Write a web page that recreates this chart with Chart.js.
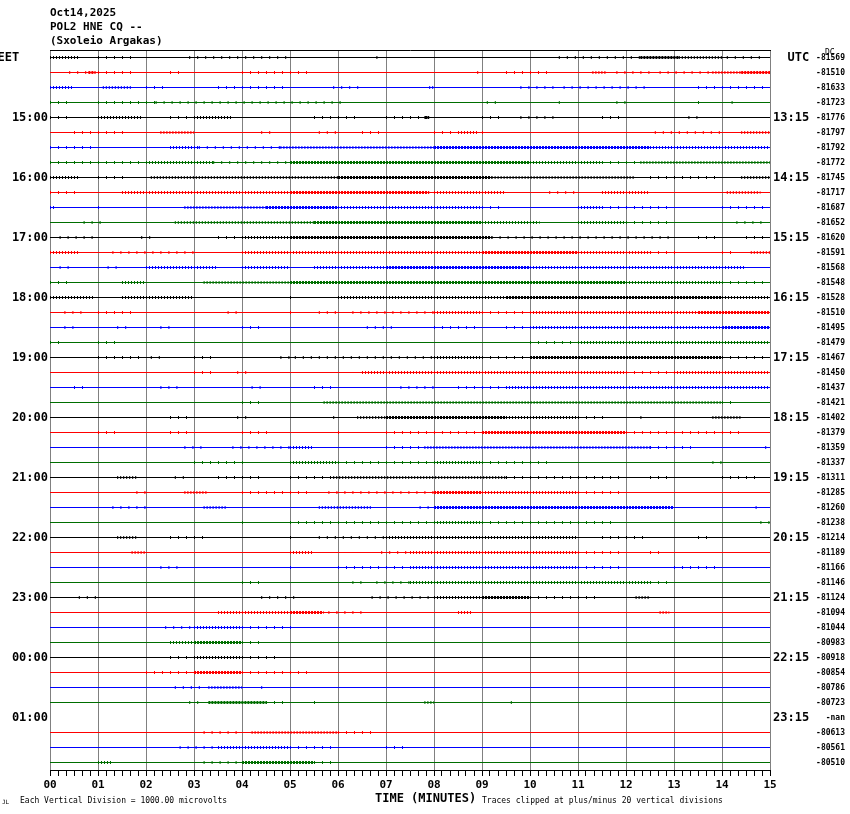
<!DOCTYPE html>
<html>
<head>
<meta charset="utf-8">
<script src="https://cdn.jsdelivr.net/npm/chart.js@4/dist/chart.umd.min.js"></script>
<style>
  html, body { margin: 0; padding: 0; background: #fff; overflow: hidden; }
</style>
</head>
<body>
<canvas id="chart" width="850" height="814"></canvas>
<script>
// header lines + station
const headerLines = ["Oct14,2025", "POL2 HNE CQ --", "(Sxoleio Argakas)"];

// x axis (minutes)
const minuteLabels = ["00", "01", "02", "03", "04", "05", "06", "07", "08", "09", "10", "11", "12", "13", "14", "15"];

// left / right hour labels, one every 4 traces
const eetLabels = ["EET", "15:00", "16:00", "17:00", "18:00", "19:00", "20:00", "21:00", "22:00", "23:00", "00:00", "01:00"];
const utcLabels = ["UTC", "13:15", "14:15", "15:15", "16:15", "17:15", "18:15", "19:15", "20:15", "21:15", "22:15", "23:15"];

// DC offset per trace (null = -nan, trace not drawn)
const dcOffsets = [
  -81569, -81510, -81633, -81723, -81776, -81797, -81792, -81772,
  -81745, -81717, -81687, -81652, -81620, -81591, -81568, -81548,
  -81528, -81510, -81495, -81479, -81467, -81450, -81437, -81421,
  -81402, -81379, -81359, -81337, -81311, -81285, -81260, -81238,
  -81214, -81189, -81166, -81146, -81124, -81094, -81044, -80983,
  -80918, -80854, -80786, -80723, null, -80613, -80561, -80510
];

const traceColors = ["#000000", "#ff0000", "#0000ff", "#006e00"];

// noisy stretches: [fromMin, toMin, level 1..3]
const activity = [
  [[0,0.6,2],[1.0,1.8,1],[2.9,5.0,1],[6.8,6.9,1],[10.6,12.3,1],[12.3,13.1,3],[13.1,14.0,2],[14.1,14.8,1]],
  [[0.4,0.8,1],[0.8,0.95,3],[1.0,1.7,1],[2.5,2.8,1],[4.0,5.5,1],[8.9,9.0,1],[9.5,10.5,1],[11.3,11.6,2],[11.8,12.6,1],[12.7,13.8,1],[13.8,14.4,2],[14.4,15,3]],
  [[0,0.5,2],[1.1,1.7,2],[2.0,2.5,1],[3.5,5.0,1],[5.9,6.5,1],[7.9,8.0,2],[9.8,10.5,1],[10.7,12.5,1],[13.5,15,1]],
  [[0,0.5,1],[1.0,2.2,1],[2.2,6.2,1],[9.1,9.3,1],[10.6,10.7,1],[11.8,12.0,1],[13.5,13.6,1],[14.2,14.3,1]],
  [[0,0.4,1],[1.0,1.9,2],[2.5,3.0,1],[3.0,3.8,2],[5.5,6.5,1],[7.0,8.0,1],[7.8,7.9,3],[9.0,9.5,1],[9.8,10.5,1],[11.5,12.0,1],[13.3,13.6,1]],
  [[0.5,1.6,1],[2.3,3.0,2],[4.4,4.6,1],[5.6,6.1,1],[6.5,7.0,1],[8.0,8.5,1],[8.5,8.9,2],[9.0,9.1,1],[12.6,14.0,1],[14.4,15,2]],
  [[0,1.0,1],[2.5,3.1,2],[3.1,4.8,1],[4.8,8.0,2],[8.0,12.5,3],[12.5,15,2]],
  [[0,2.0,1],[2.0,3.4,2],[3.4,5.0,1],[5.0,10.0,3],[10.0,11.5,2],[11.5,12.3,1],[12.3,15,2]],
  [[0,0.6,2],[1.0,1.6,1],[2.1,6.0,2],[6.0,9.2,3],[9.2,12.2,2],[12.5,14.0,1],[14.4,15,2]],
  [[0,0.6,1],[1.5,5.0,2],[5.0,7.9,3],[8.0,9.5,2],[10.4,11.0,1],[11.5,12.5,2],[14.1,14.8,2]],
  [[0,0.1,2],[1.0,1.1,1],[2.8,4.5,2],[4.5,6.0,3],[6.0,9.0,2],[9.0,9.4,1],[11.0,11.5,2],[11.5,13.0,1],[14.0,15,1]],
  [[0.7,1.2,1],[2.6,5.5,2],[5.5,9.0,3],[9.0,10.2,2],[11.0,12.0,2],[12.0,13.0,1],[14.3,14.9,1]],
  [[0.2,0.9,1],[1.9,2.2,1],[3.5,4.0,1],[4.0,5.0,2],[5.0,9.2,3],[9.2,13.0,1],[13.5,14.0,1],[14.5,15,1]],
  [[0,0.6,2],[1.3,3.0,1],[4.0,9.0,2],[9.0,11.0,3],[11.0,12.5,2],[12.5,13.1,1],[14.0,14.2,1],[14.6,15,2]],
  [[0.2,0.5,1],[1.2,1.5,1],[2.0,3.5,2],[4.0,5.0,2],[5.5,7.0,2],[7.0,10.0,3],[10.0,14.5,2]],
  [[0,0.5,1],[1.5,2.0,2],[3.2,5.0,2],[5.0,12.0,3],[12.0,14.0,2],[14.0,15,1]],
  [[0,0.9,2],[1.5,3.0,2],[5.0,5.1,1],[6.0,9.5,2],[9.5,14.0,3],[14.0,15,2]],
  [[0.3,0.7,1],[1.0,1.8,1],[3.7,4.0,1],[5.0,5.1,1],[5.6,6.0,1],[6.3,8.0,1],[8.0,9.0,2],[9.0,10.0,1],[10.0,13.5,2],[13.5,15,3]],
  [[0.3,0.5,1],[1.4,1.6,1],[2.3,2.6,1],[4.0,4.5,1],[6.6,7.2,1],[8.0,9.0,1],[9.5,10.0,1],[10.0,14.0,2],[14.0,15,3]],
  [[0,0.3,1],[1.0,1.4,1],[10.0,11.0,1],[11.0,15,2]],
  [[1.0,2.0,1],[2.1,2.3,1],[3.0,3.5,1],[4.8,5.0,1],[5.1,8.0,1],[8.0,9.0,2],[9.0,10.0,1],[10.0,14.0,3],[14.0,15,1]],
  [[3.0,3.5,1],[3.9,4.2,1],[6.5,12.0,2],[12.0,13.0,1],[13.0,15,2]],
  [[0.5,0.7,1],[2.3,2.8,1],[4.2,4.5,1],[5.5,6.0,1],[7.3,8.0,1],[8.5,9.5,1],[9.5,15,2]],
  [[4.0,4.5,1],[5.7,14.0,2],[14.0,14.2,1]],
  [[2.5,3.0,1],[3.9,4.2,1],[5.9,6.0,1],[6.4,7.0,2],[7.0,9.5,3],[9.5,11.0,2],[11.0,11.6,1],[12.3,12.4,1],[13.8,14.4,2]],
  [[1.0,1.5,1],[2.5,3.0,1],[4.0,4.6,1],[6.0,6.1,1],[7.0,9.0,1],[9.0,12.0,3],[12.0,14.5,1]],
  [[2.8,3.2,1],[3.8,5.0,1],[5.0,5.5,2],[7.0,7.8,1],[7.8,12.5,2],[12.5,13.5,1],[14.9,15,1]],
  [[3.0,4.1,1],[5.0,6.0,2],[6.0,8.0,1],[8.0,9.0,2],[9.0,10.5,1],[13.8,14.1,1]],
  [[1.4,1.8,2],[2.6,2.8,1],[3.5,4.5,1],[5.0,5.9,1],[5.9,9.5,2],[9.5,12.0,1],[12.5,13.0,1],[14.0,14.8,1]],
  [[1.8,2.0,1],[2.8,3.3,2],[4.0,5.5,1],[5.8,8.0,1],[8.0,9.0,3],[9.0,11.0,2],[11.0,12.0,1]],
  [[1.3,2.0,1],[3.2,3.7,2],[5.6,6.7,2],[7.7,8.0,1],[8.0,13.0,3],[14.7,14.8,1]],
  [[4.0,4.1,1],[5.0,8.0,1],[8.0,9.0,2],[9.0,11.7,1],[14.8,15,1]],
  [[1.4,1.8,2],[2.5,3.3,1],[5.0,5.1,1],[5.6,7.0,1],[7.0,11.0,2],[11.5,12.5,1],[13.5,13.7,1]],
  [[1.7,2.0,2],[5.0,5.5,2],[6.9,7.5,1],[7.5,11.0,2],[11.0,12.0,1],[12.5,12.7,1]],
  [[2.3,2.7,1],[5.0,5.1,1],[6.0,7.5,1],[7.5,11.0,2],[11.0,12.0,1],[13.0,14.0,1]],
  [[4.0,4.5,1],[6.3,6.5,1],[6.8,7.5,1],[7.5,12.5,2],[12.5,13.0,1]],
  [[0.6,1.0,1],[4.4,5.1,1],[6.7,8.0,1],[8.0,9.0,2],[9.0,10.0,3],[10.0,11.5,1],[12.2,12.5,2]],
  [[3.5,5.0,2],[5.0,5.7,3],[5.8,6.5,1],[8.5,8.8,2],[12.7,12.9,2]],
  [[2.4,3.0,1],[3.0,4.0,2],[4.0,5.1,1]],
  [[2.5,3.0,2],[3.0,4.0,3],[4.0,4.5,1]],
  [[2.5,3.0,1],[3.0,4.0,2],[4.0,4.8,1]],
  [[2.0,3.0,1],[3.0,4.0,3],[4.0,5.5,1]],
  [[2.6,3.2,1],[3.3,4.0,2],[4.4,4.5,1]],
  [[2.9,3.2,1],[3.3,4.5,3],[4.5,5.0,1],[5.5,5.6,1],[7.8,8.0,2],[9.6,9.7,1]],
  [],
  [[3.2,4.0,1],[4.2,6.0,2],[6.0,6.7,1]],
  [[2.7,3.5,1],[3.5,5.0,2],[5.0,6.0,1],[7.0,7.5,1]],
  [[1.0,1.3,2],[3.2,4.0,1],[4.0,5.5,3],[5.5,6.0,1]]
];

// how each noise level is stroked (thin vertical ticks around the trace)
const levelStyle = {
  1: { width: 3, dash: [1, 7] },
  2: { width: 3, dash: [1, 2] },
  3: { width: 3, dash: [2, 1] }
};

const isWhole = v => Math.abs(v - Math.round(v)) < 1e-6;
const traceIdx = dcOffsets.map((_, i) => i);

const datasets = [];
dcOffsets.forEach((dc, i) => {
  if (dc === null) return;
  datasets.push({
    data: [{ x: 0, y: i }, { x: 15, y: i }],
    borderColor: traceColors[i % 4],
    borderWidth: 1,
    pointRadius: 0
  });
});
activity.forEach((spans, i) => {
  [1, 2, 3].forEach(lvl => {
    const pts = [];
    spans.filter(s => s[2] === lvl).forEach(s => {
      pts.push({ x: s[0], y: i }, { x: s[1], y: i }, { x: s[1], y: null });
    });
    if (!pts.length) return;
    datasets.push({
      data: pts,
      borderColor: traceColors[i % 4],
      borderWidth: levelStyle[lvl].width,
      borderDash: levelStyle[lvl].dash,
      borderCapStyle: "butt",
      pointRadius: 0,
      spanGaps: false
    });
  });
});

const mono = '"DejaVu Sans Mono", monospace';

const textPlugin = {
  id: "helicorderText",
  afterDraw(chart) {
    const ctx = chart.ctx;
    ctx.save();
    ctx.fillStyle = "#000";
    ctx.textBaseline = "middle";
    ctx.textAlign = "left";
    ctx.font = "bold 11px " + mono;
    headerLines.forEach((t, k) => ctx.fillText(t, 50, 13 + k * 14));
    ctx.font = "bold 12px " + mono;
    ctx.fillText("TIME (MINUTES)", 375, 799);
    ctx.font = "8px " + mono;
    ctx.fillText("Each Vertical Division = 1000.00 microvolts", 20, 801);
    ctx.fillText("Traces clipped at plus/minus 20 vertical divisions", 482, 801);
    ctx.fillText("DC", 825, 53);
    ctx.font = "6px " + mono;
    ctx.fillText("JL", 2, 802);
    ctx.restore();
  }
};

const yRange = { type: "linear", reverse: true, min: -0.5, max: 47.5 };

new Chart(document.getElementById("chart"), {
  type: "line",
  data: { datasets },
  options: {
    responsive: false,
    animation: false,
    devicePixelRatio: 1,
    layout: { padding: { left: 0, right: 5, top: 50, bottom: 0 } },
    plugins: { legend: { display: false }, tooltip: { enabled: false } },
    scales: {
      x: {
        type: "linear",
        position: "bottom",
        min: 0,
        max: 15,
        afterBuildTicks: s => { s.ticks = Array.from({ length: 91 }, (_, k) => ({ value: k / 6 })); },
        afterFit: s => { s.height = 44; },
        grid: {
          color: c => (c.tick && isWhole(c.tick.value) ? "#808080" : "rgba(0,0,0,0)"),
          tickColor: "#000",
          tickLength: 6,
          lineWidth: 1
        },
        border: { color: "#000", width: 1 },
        ticks: {
          autoSkip: false,
          maxRotation: 0,
          padding: 3,
          color: "#000",
          font: { family: mono, size: 11, weight: "bold" },
          callback: v => (isWhole(v) ? minuteLabels[Math.round(v)] : "")
        }
      },
      xTop: {
        axis: "x",
        type: "linear",
        position: "top",
        min: 0,
        max: 15,
        afterFit: s => { s.height = 0; },
        grid: { display: false, drawTicks: false },
        ticks: { display: false },
        border: { color: "#000", width: 1 }
      },
      y: {
        ...yRange,
        position: "left",
        afterBuildTicks: s => { s.ticks = traceIdx.map(v => ({ value: v })); },
        afterFit: s => { s.width = 50; },
        grid: { display: false, drawTicks: false },
        border: { display: false },
        ticks: {
          autoSkip: false,
          padding: 2,
          color: "#000",
          font: { family: mono, size: 12, weight: "bold" },
          callback: v => (v % 4 === 0 ? (v === 0 ? eetLabels[0] + "    " : eetLabels[v / 4]) : "")
        }
      },
      yUtc: {
        ...yRange,
        axis: "y",
        position: "right",
        weight: 0,
        afterBuildTicks: s => { s.ticks = traceIdx.map(v => ({ value: v })); },
        afterFit: s => { s.width = 44; },
        grid: { display: false, drawTicks: false },
        border: { display: false },
        ticks: {
          autoSkip: false,
          padding: 3,
          color: "#000",
          font: { family: mono, size: 12, weight: "bold" },
          callback: v => (v % 4 === 0 ? (v === 0 ? "  " + utcLabels[0] : utcLabels[v / 4]) : "")
        }
      },
      yDc: {
        ...yRange,
        axis: "y",
        position: "right",
        weight: 1,
        afterBuildTicks: s => { s.ticks = traceIdx.map(v => ({ value: v })); },
        afterFit: s => { s.width = 31; },
        grid: { display: false, drawTicks: false },
        border: { display: false },
        ticks: {
          autoSkip: false,
          crossAlign: "far",
          padding: 0,
          color: "#000",
          font: { family: mono, size: 8, weight: "bold" },
          callback: v => (dcOffsets[v] === null ? "-nan" : String(dcOffsets[v]))
        }
      }
    }
  },
  plugins: [textPlugin]
});
</script>
</body>
</html>
